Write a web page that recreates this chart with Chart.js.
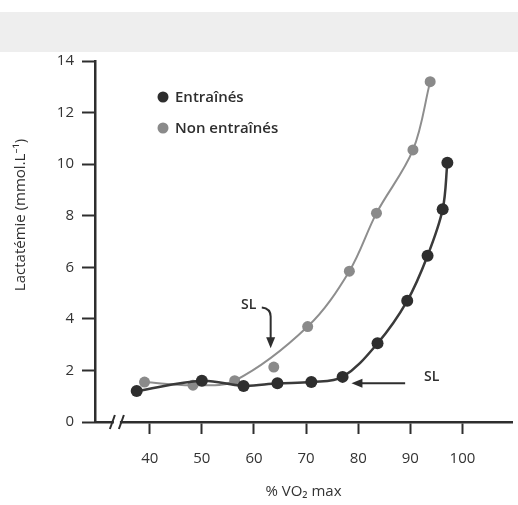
<!DOCTYPE html>
<html>
<head>
<meta charset="utf-8">
<script src="https://cdn.jsdelivr.net/npm/chart.js@4.4.0/dist/chart.umd.min.js"></script>
<style>
  html, body { margin: 0; padding: 0; background: #fff; }
  #wrap { width: 518px; height: 505px; }
</style>
</head>
<body>
<div id="wrap"><canvas id="lactateChart" width="518" height="505"></canvas></div>
<script>
// Data
const trainedLabel = 'Entraînés';
const trainedX = [37.5, 50, 58, 64.5, 71, 77, 83.7, 89.4, 93.3, 96.2, 97.1];
const trainedY = [1.2, 1.6, 1.4, 1.5, 1.55, 1.75, 3.05, 4.7, 6.45, 8.25, 10.05];

const untrainedLabel = 'Non entraînés';
const untrainedX = [39, 48.3, 56.3, 63.8, 70.3, 78.3, 83.5, 90.5, 93.8];
const untrainedY = [1.55, 1.43, 1.6, 2.13, 3.7, 5.85, 8.1, 10.55, 13.2];
// the point at ~64 % sits below the drawn curve
const untrainedOnCurve = [true, true, true, false, true, true, true, true, true];

const xTicks = [40, 50, 60, 70, 80, 90, 100];
const xTitle = '% VO₂ max';
const yTitle = 'Lactatémie (mmol.L⁻¹)';

// Seuil lactique annotations, in data units
const slLabels = [
  { text: 'SL', x: 59, y: 4.52 },
  { text: 'SL', x: 94.1, y: 1.74 }
];

const INK = '#2e2e2e';
const GREY = '#8a8a8a';
const FONT = '"Open Sans", "Noto Sans", sans-serif';

const toPoints = (xs, ys) => xs.map((v, i) => ({ x: v, y: ys[i] }));

// Drawing helpers
function arrowHead(ctx, tx, ty, dir) {
  // dir: 'down' or 'left'
  ctx.beginPath();
  if (dir === 'down') {
    ctx.moveTo(tx, ty);
    ctx.lineTo(tx - 4.5, ty - 11);
    ctx.lineTo(tx + 4.5, ty - 11);
  } else {
    ctx.moveTo(tx, ty);
    ctx.lineTo(tx + 11, ty - 4.5);
    ctx.lineTo(tx + 11, ty + 4.5);
  }
  ctx.closePath();
  ctx.fill();
}

const decorPlugin = {
  id: 'decor',
  beforeDraw(chart) {
    const ctx = chart.ctx;
    ctx.save();
    ctx.fillStyle = '#eeeeee';
    ctx.fillRect(0, 12, chart.width, 40);
    ctx.restore();
  },
  afterDraw(chart) {
    const { ctx, scales: { x, y }, chartArea } = chart;
    ctx.save();

    // axis break "//"
    const bx = x.getPixelForValue(33.7);
    const by = y.getPixelForValue(0);
    ctx.fillStyle = '#fff';
    ctx.fillRect(bx - 3, by - 3, 6, 6);
    ctx.strokeStyle = INK;
    ctx.lineWidth = 2;
    [-4.5, 4.5].forEach(off => {
      ctx.beginPath();
      ctx.moveTo(bx + off - 2.5, by + 7);
      ctx.lineTo(bx + off + 2.5, by - 7);
      ctx.stroke();
    });

    // legend
    ctx.textBaseline = 'middle';
    ctx.textAlign = 'left';
    ctx.font = '600 15px ' + FONT;
    chart.data.datasets.filter(ds => ds.inLegend).forEach((ds, i) => {
      const lx = chartArea.left + 68;
      const ly = chartArea.top + 36 + i * 31;
      ctx.fillStyle = ds.pointBackgroundColor;
      ctx.beginPath();
      ctx.arc(lx, ly, 5.5, 0, Math.PI * 2);
      ctx.fill();
      ctx.fillStyle = INK;
      ctx.fillText(ds.label, lx + 12, ly + 1);
    });

    // SL labels
    ctx.font = '600 14px ' + FONT;
    ctx.textAlign = 'center';
    slLabels.forEach(l => {
      ctx.fillStyle = INK;
      ctx.fillText(l.text, x.getPixelForValue(l.x), y.getPixelForValue(l.y));
    });

    // SL arrow 1 (bent, pointing down)
    ctx.strokeStyle = INK;
    ctx.fillStyle = INK;
    ctx.lineWidth = 2;
    const sx = x.getPixelForValue(61.5), sy = y.getPixelForValue(4.44);
    const tx = x.getPixelForValue(63.2), ty = y.getPixelForValue(2.86);
    ctx.beginPath();
    ctx.moveTo(sx, sy);
    ctx.quadraticCurveTo(tx, sy + 1, tx, sy + 9);
    ctx.lineTo(tx, ty - 8);
    ctx.stroke();
    arrowHead(ctx, tx, ty, 'down');

    // SL arrow 2 (horizontal, pointing left)
    const ax = x.getPixelForValue(89), ay = y.getPixelForValue(1.5);
    const hx = x.getPixelForValue(78.7);
    ctx.beginPath();
    ctx.moveTo(ax, ay);
    ctx.lineTo(hx + 8, ay);
    ctx.stroke();
    arrowHead(ctx, hx, ay, 'left');

    // y axis title
    ctx.font = '15px ' + FONT;
    ctx.fillStyle = INK;
    ctx.translate(21, 215);
    ctx.rotate(-Math.PI / 2);
    ctx.textAlign = 'center';
    ctx.fillText(yTitle, 0, 0);

    ctx.restore();
  }
};

const untrainedPts = toPoints(untrainedX, untrainedY);

new Chart(document.getElementById('lactateChart'), {
  type: 'line',
  data: {
    datasets: [
      {
        label: trainedLabel,
        inLegend: true,
        data: toPoints(trainedX, trainedY),
        borderColor: '#3a3a3a',
        borderWidth: 2.5,
        pointBackgroundColor: INK,
        pointBorderWidth: 0,
        pointRadius: 6,
        tension: 0.35,
        fill: false
      },
      {
        label: untrainedLabel,
        inLegend: true,
        data: untrainedPts,
        showLine: false,
        pointBackgroundColor: GREY,
        pointBorderWidth: 0,
        pointRadius: 5.5
      },
      {
        label: untrainedLabel + ' (courbe)',
        data: untrainedPts.filter((p, i) => untrainedOnCurve[i]),
        borderColor: '#8e8e8e',
        borderWidth: 2,
        pointRadius: 0,
        tension: 0.35,
        fill: false
      }
    ]
  },
  options: {
    responsive: false,
    animation: false,
    layout: { padding: { top: 61, right: 3, left: 0, bottom: 0 } },
    plugins: {
      legend: { display: false },
      tooltip: { enabled: false }
    },
    scales: {
      x: {
        type: 'linear',
        min: 29.5,
        max: 109.5,
        afterBuildTicks: s => { s.ticks = xTicks.map(v => ({ value: v })); },
        afterFit: s => { s.height = 83; },
        grid: { drawOnChartArea: false, drawTicks: true, tickLength: 12, tickColor: INK, tickWidth: 2 },
        border: { color: INK, width: 2.5 },
        ticks: { color: '#333', padding: 16, font: { family: FONT, size: 15 } },
        title: { display: true, text: xTitle, color: '#333', padding: { top: 0, bottom: 4 }, font: { family: FONT, size: 15 } }
      },
      y: {
        min: 0,
        max: 14,
        afterFit: s => { s.width = 95; },
        grid: { drawOnChartArea: false, drawTicks: true, tickLength: 13, tickColor: INK, tickWidth: 2 },
        border: { color: INK, width: 2.5 },
        ticks: { stepSize: 2, color: '#333', padding: 8, font: { family: FONT, size: 15 } }
      }
    }
  },
  plugins: [decorPlugin]
});
</script>
</body>
</html>
